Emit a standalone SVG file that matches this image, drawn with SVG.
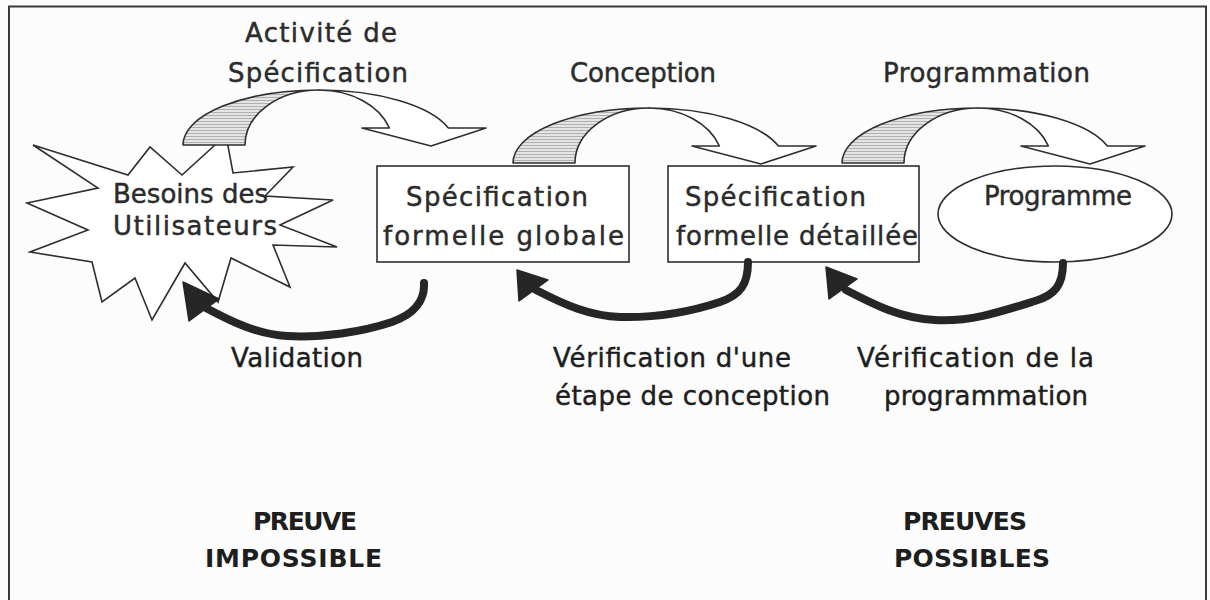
<svg xmlns="http://www.w3.org/2000/svg" xmlns:xlink="http://www.w3.org/1999/xlink" width="1210" height="600" viewBox="0 0 1210 600">
  <style>
    .lbl { font-family: "DejaVu Sans", "Liberation Sans", sans-serif; font-size: 26px; fill: #2b2b2b; stroke: #2b2b2b; stroke-width: 0.45; }
    .low { fill: #1e1e1e; stroke: #1e1e1e; }
    .bold { font-weight: bold; font-size: 25px; fill: #1e1e1e; stroke: none; }
    .shape { fill: #ffffff; stroke: #2e2e2e; stroke-width: 1.6; }
    .loop { fill: none; stroke: #262626; stroke-width: 8; stroke-linecap: round; stroke-linejoin: round; }
    .head { fill: #262626; stroke: #262626; stroke-width: 1.5; stroke-linejoin: round; }
    .back { fill: url(#hatch); stroke: #2e2e2e; stroke-width: 1.6; stroke-linejoin: round; }
    .front { fill: #ffffff; stroke: #2e2e2e; stroke-width: 1.6; stroke-linejoin: round; }
  </style>
  <defs>
    <!-- light horizontal hatching for the back face of the curved arrows -->
    <pattern id="hatch" width="4" height="3" patternUnits="userSpaceOnUse">
      <rect width="4" height="3" fill="#e4e4e4"/>
      <rect y="0" width="4" height="1" fill="#b0b0b0"/>
    </pattern>
    <!-- curved "down" arrow, origin at the outer left foot -->
    <g id="curvedArrow">
      <path class="back" d="M0,0 A136,55 0 0 1 136,-55 A74,55 0 0 0 62,0 Z"/>
      <path class="front" d="M136,-55 A136,55 0 0 1 265.4,-17 L303,-17 L248,1 L179,-17 L206.4,-17 A74,55 0 0 0 136,-55 Z"/>
    </g>
  </defs>

  <!-- page background and frame -->
  <rect x="0" y="0" width="1210" height="600" fill="#fcfcfc"/>
  <rect x="9" y="6.5" width="1197" height="620" fill="none" stroke="#3a3a3a" stroke-width="2"/>

  <!-- nodes -->
  <g id="besoins">
    <polygon class="shape" points="33,145 128,175 150,147 182,175 226,135 233,173 293,167 265,196 333,200 280,225 337,247 273,245 290,287 231,258 218,302 185,263 152,320 135,278 102,302 92,262 30,252 88,230 27,203 98,188"/>
    <text class="lbl" x="113" y="203" textLength="155">Besoins des</text>
    <text class="lbl" x="113" y="235" textLength="164">Utilisateurs</text>
  </g>
  <g id="spec-globale">
    <rect class="shape" x="377" y="166" width="252" height="96"/>
    <text class="lbl" x="406" y="206" textLength="182">Spécification</text>
    <text class="lbl" x="383" y="245" textLength="241">formelle globale</text>
  </g>
  <g id="spec-detaillee">
    <rect class="shape" x="668" y="166" width="251" height="96"/>
    <text class="lbl" x="685" y="206" textLength="181">Spécification</text>
    <text class="lbl" x="676" y="245" textLength="242">formelle détaillée</text>
  </g>
  <g id="programme">
    <ellipse class="shape" cx="1055" cy="214" rx="117" ry="48"/>
    <text class="lbl" x="984" y="205" textLength="148">Programme</text>
  </g>

  <!-- connectors -->
  <g id="connectors">
    <g id="specification">
      <use xlink:href="#curvedArrow" href="#curvedArrow" transform="translate(183,145)"/>
      <text class="lbl" x="245" y="42" textLength="152">Activité de</text>
      <text class="lbl" x="228" y="82" textLength="180">Spécification</text>
    </g>
    <g id="conception">
      <use xlink:href="#curvedArrow" href="#curvedArrow" transform="translate(513,163)"/>
      <text class="lbl" x="570" y="82" textLength="146">Conception</text>
    </g>
    <g id="programmation">
      <use xlink:href="#curvedArrow" href="#curvedArrow" transform="translate(842,163)"/>
      <text class="lbl" x="883" y="82" textLength="207">Programmation</text>
    </g>

    <g id="validation">
      <path class="loop" d="M424,283 C425,300 415,314 392,322 C362,332 322,338 287,336 C257,334 232,322 206,308"/>
      <polygon class="head" points="183,282 189,321 219,299"/>
      <text class="lbl low" x="231" y="367" textLength="132">Validation</text>
    </g>
    <g id="verif-conception">
      <path class="loop" d="M748,262 C748,285 740,295 720,302 C690,312 660,318 620,317 C590,316 565,305 536,290"/>
      <polygon class="head" points="517,270 519,301 548,280"/>
      <text class="lbl low" x="553" y="367" textLength="238">Vérification d'une</text>
      <text class="lbl low" x="555" y="405" textLength="275">étape de conception</text>
    </g>
    <g id="verif-programmation">
      <path class="loop" d="M1063,263 C1063,285 1055,295 1035,301 C1000,312 970,322 935,320 C900,318 875,305 846,290"/>
      <polygon class="head" points="826,267 829,299 857,279"/>
      <text class="lbl low" x="857" y="367" textLength="237">Vérification de la</text>
      <text class="lbl low" x="884" y="405" textLength="204">programmation</text>
    </g>
  </g>

  <!-- proof captions -->
  <g id="preuve-impossible">
    <text class="lbl bold" x="253" y="530" textLength="104">PREUVE</text>
    <text class="lbl bold" x="205" y="567" textLength="177">IMPOSSIBLE</text>
  </g>
  <g id="preuves-possibles">
    <text class="lbl bold" x="903" y="530" textLength="124">PREUVES</text>
    <text class="lbl bold" x="894" y="567" textLength="156">POSSIBLES</text>
  </g>
</svg>
